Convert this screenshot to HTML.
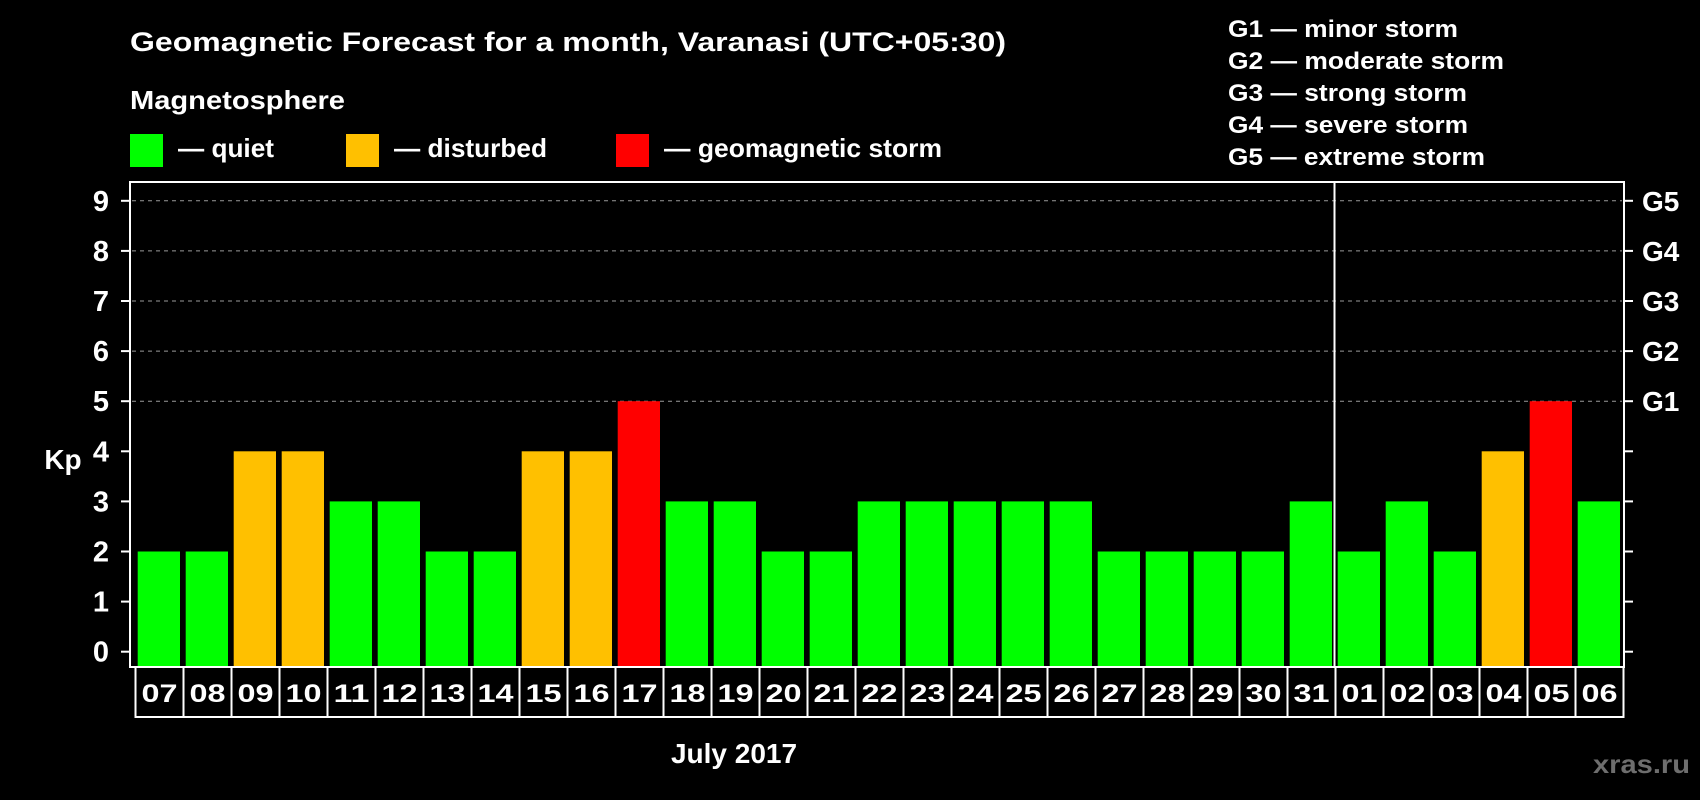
<!DOCTYPE html>
<html><head><meta charset="utf-8"><style>
html,body{margin:0;padding:0;background:#000;width:1700px;height:800px;overflow:hidden}
svg{display:block}
text{font-family:"Liberation Sans",sans-serif;font-weight:bold;fill:#fff}
</style></head><body>
<svg id="chart" width="1700" height="800" viewBox="0 0 1700 800">
<text x="130" y="51" font-size="27" textLength="876" lengthAdjust="spacingAndGlyphs">Geomagnetic Forecast for a month, Varanasi (UTC+05:30)</text>
<text x="130" y="109" font-size="26" textLength="215" lengthAdjust="spacingAndGlyphs">Magnetosphere</text>
<g>
<rect x="130" y="134" width="33" height="33" fill="#00ff00"/>
<text x="178" y="157" font-size="26" textLength="96" lengthAdjust="spacingAndGlyphs">— quiet</text></g>
<g>
<rect x="346" y="134" width="33" height="33" fill="#ffc000"/>
<text x="394" y="157" font-size="26" textLength="153" lengthAdjust="spacingAndGlyphs">— disturbed</text></g>
<g>
<rect x="616" y="134" width="33" height="33" fill="#ff0000"/>
<text x="664" y="157" font-size="26" textLength="278" lengthAdjust="spacingAndGlyphs">— geomagnetic storm</text></g>
<g font-size="24">
<text x="1228" y="37" textLength="230" lengthAdjust="spacingAndGlyphs">G1 — minor storm</text>
<text x="1228" y="69" textLength="276" lengthAdjust="spacingAndGlyphs">G2 — moderate storm</text>
<text x="1228" y="101" textLength="239" lengthAdjust="spacingAndGlyphs">G3 — strong storm</text>
<text x="1228" y="133" textLength="240" lengthAdjust="spacingAndGlyphs">G4 — severe storm</text>
<text x="1228" y="165" textLength="257" lengthAdjust="spacingAndGlyphs">G5 — extreme storm</text>
</g>
<text x="63" y="469" font-size="28" text-anchor="middle">Kp</text>
<text x="734" y="763" font-size="28" text-anchor="middle">July 2017</text>
<text x="1593" y="773" font-size="26" fill="#6e6e6e" style="fill:#6e6e6e" textLength="97" lengthAdjust="spacingAndGlyphs">xras.ru</text>
<g id="plot"></g>
</svg>
<script>
const days = ["07","08","09","10","11","12","13","14","15","16","17","18","19","20","21","22","23","24","25","26","27","28","29","30","31","01","02","03","04","05","06"];
const kpValues = [2,2,4,4,3,3,2,2,4,4,5,3,3,2,2,3,3,3,3,3,2,2,2,2,3,2,3,2,4,5,3];
const yTicks = [0,1,2,3,4,5,6,7,8,9];
const gLabels = ["G1","G2","G3","G4","G5"];
const gLevels = [5,6,7,8,9];
const monthBreakIndex = 25;

const NS = "http://www.w3.org/2000/svg";
const plot = document.getElementById("plot");
const L = 130, R = 1624, T = 182, B = 667;
const y0 = 651.7, unit = 50.1;
const slot = 48, bar0 = 137.7, barW = 42.3, box0 = 135.5;
function yS(v){ return y0 - v*unit; }
function xS(i){ return bar0 + i*slot; }
function mk(tag, attrs){ const e=document.createElementNS(NS,tag); for(const k in attrs) e.setAttribute(k,attrs[k]); plot.appendChild(e); return e; }
function color(v){ return v>=5 ? "#ff0000" : (v>=4 ? "#ffc000" : "#00ff00"); }

// grid lines for G levels
gLevels.forEach((lv,j)=>{
  const g = mk("line",{x1:L+2,x2:R-2,y1:yS(lv),y2:yS(lv),stroke:"#9a9a9a","stroke-width":1,"stroke-dasharray":"4,4"});
  
  
  const t = mk("text",{x:1642,y:yS(lv)+10,"font-size":28});
  t.textContent = gLabels[j];
  
  
});
// y ticks
yTicks.forEach(v=>{
  const tk = mk("line",{x1:L-9,x2:L,y1:yS(v),y2:yS(v),stroke:"#fff","stroke-width":2});
  
  
  const tr = mk("line",{x1:R,x2:R+9,y1:yS(v),y2:yS(v),stroke:"#fff","stroke-width":2});
  
  
  const t = mk("text",{x:109,y:yS(v)+10,"font-size":29,"text-anchor":"end"});
  t.textContent = v;
  
  
});
// bars
kpValues.forEach((v,i)=>{
  const r = mk("rect",{x:xS(i),y:yS(v),width:barW,height:B-1-yS(v),fill:color(v)});
  
  
});
// frame
const fr = mk("rect",{x:L,y:T,width:R-L,height:B-T,fill:"none",stroke:"#fff","stroke-width":2});


const sepX = box0 + monthBreakIndex*slot - 1;
const sep = mk("line",{x1:sepX,x2:sepX,y1:T,y2:B,stroke:"#fff","stroke-width":2});


// day label boxes
days.forEach((d,i)=>{
  const bx = box0 + i*slot;
  const b = mk("rect",{x:bx,y:B,width:slot,height:50,fill:"#000",stroke:"#fff","stroke-width":2});
  
  
  const t = mk("text",{x:bx+slot/2,y:B+35,"font-size":25,"text-anchor":"middle",textLength:36,lengthAdjust:"spacingAndGlyphs"});
  t.textContent = d;
  
  
});
</script>
</body></html>
